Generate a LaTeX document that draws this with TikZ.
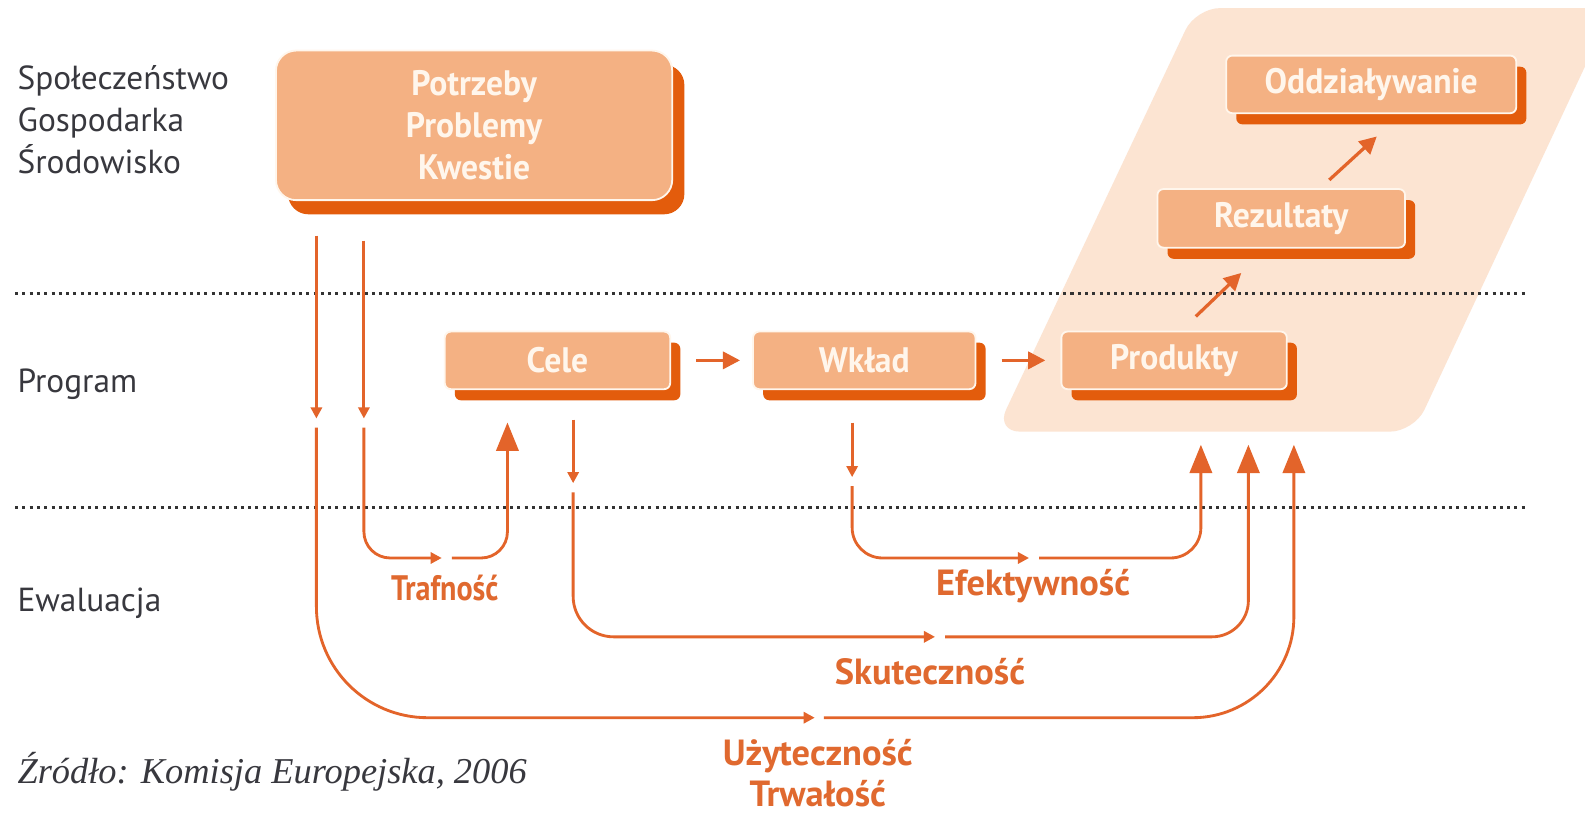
\documentclass[tikz,border=0pt]{standalone}
\usepackage{fontspec}
\setmainfont{PT Sans}
\newfontfamily\boxfont[FakeStretch=0.95]{PT Sans}
\newfontfamily\evfont{PT Sans}
\newfontfamily\condfont[FakeStretch=0.85]{PT Sans}
\newfontfamily\srcfont{Liberation Serif}
\usetikzlibrary{arrows.meta,shadows,calc}
\definecolor{boxfill}{HTML}{F4B183}
\definecolor{boxshadow}{HTML}{E35C0C}
\definecolor{peach}{HTML}{FCE4D2}
\definecolor{connc}{HTML}{E3642A}
\definecolor{lblc}{HTML}{E0692F}
\definecolor{txtdark}{HTML}{38383E}
\definecolor{cream}{HTML}{FFF6EC}
\definecolor{dotc}{HTML}{333333}
\tikzset{
  boxbase/.style={draw=cream, line width=0.9pt, fill=boxfill, rounded corners=3pt,
    text=cream, inner sep=0pt, font=\boxfont\bfseries\fontsize{17.5}{20.8}\selectfont},
  smallbox/.style={boxbase, minimum height=28.5pt,
    drop shadow={shadow xshift=5pt, shadow yshift=-5.5pt, fill=boxshadow, opacity=1}},
  bigbox/.style={boxbase, rounded corners=10pt, align=center,
    drop shadow={shadow xshift=6pt, shadow yshift=-7pt, fill=boxshadow, opacity=1}},
  sidelabel/.style={anchor=west, inner sep=0pt, align=left, text=txtdark,
    font=\fontsize{16.5}{20.8}\selectfont},
  evlabel/.style={inner sep=0pt, align=center, text=lblc,
    font=\evfont\bfseries\fontsize{18}{20.5}\selectfont},
  dotline/.style={draw=dotc, line width=1.5pt, dash pattern=on 1.5pt off 2.1pt},
  conn/.style={draw=connc, line width=1.4pt},
  midtip/.style={-{Triangle[length=5.5pt,width=5.5pt]}},
  endtip/.style={-{Triangle[length=14pt,width=11pt]}},
  flowarr/.style={draw=connc, line width=1.6pt, -{Triangle[length=8.5pt,width=8.5pt]}},
}
\begin{document}
\begin{tikzpicture}[x=0.5pt,y=-0.5pt]
\useasboundingbox (0,0) rectangle (1568,809);
\fill[white] (0,0) rectangle (1568,809);
% peach band
\fill[peach, rounded corners=12pt] (985,427) -- (1399,427) -- (1595,8) -- (1183,8) -- cycle;
% dotted separators
\draw[dotline] (15,290) -- (1512,290);
\draw[dotline] (15,502) -- (1512,502);
% side labels
\node[sidelabel] (spol) at (17,118) {Społeczeństwo\\Gospodarka\\Środowisko};
\node[sidelabel] (prog) at (17,380) {Program};
\node[sidelabel] (ewal) at (17,597) {Ewaluacja};
% boxes
\node[bigbox, minimum width=196pt, minimum height=74pt] (potrz) at (469,124) {Potrzeby\\Problemy\\Kwestie};
\node[smallbox, minimum width=111.5pt] (cele) at (551.5,356.5) {Cele};
\node[smallbox, minimum width=110pt] (wklad) at (855,356.5) {Wkład};
\node[smallbox, minimum width=111.5pt] (prod) at (1161.5,356.5) {Produkty};
\node[smallbox, minimum width=122.5pt, minimum height=29pt] (rez) at (1267.5,216) {Rezultaty};
\node[smallbox, minimum width=143.5pt, minimum height=28.5pt] (odd) at (1356.5,83.5) {Oddziaływanie};
% flow arrows
\draw[flowarr] ([xshift=12.5pt]cele.east) -- ([xshift=-6pt]wklad.west);
\draw[flowarr] ([xshift=12.5pt]wklad.east) -- ([xshift=-7.5pt]prod.west);
\coordinate (d1a) at (1183,313);
\coordinate (d1b) at (1228,270);
\coordinate (d2a) at (1315,178);
\coordinate (d2b) at (1362,135);
\draw[flowarr] (d1a) -- (d1b);
\draw[flowarr] (d2a) -- (d2b);
% Uzytecznosc
\coordinate (u0) at (313,233);
\coordinate (u1) at (313,414);
\coordinate (u2) at (313,423);
\coordinate (u3) at (806,710);
\coordinate (u4) at (815,710);
\coordinate (u5) at (1280,440);
\draw[conn, midtip] (u0) -- (u1);
\draw[conn, midtip, rounded corners=55pt] (u2) |- (u3);
\draw[conn, endtip, rounded corners=50pt] (u4) -| (u5);
% Trafnosc
\coordinate (t0) at (360,238);
\coordinate (t1) at (360,414);
\coordinate (t2) at (360,423);
\coordinate (t3) at (437,552);
\coordinate (t4) at (447,552);
\coordinate (t5) at (502,418);
\draw[conn, midtip] (t0) -- (t1);
\draw[conn, midtip, rounded corners=13pt] (t2) |- (t3);
\draw[conn, endtip, rounded corners=13pt] (t4) -| (t5);
% Skutecznosc
\coordinate (s0) at (567,415);
\coordinate (s1) at (567,478);
\coordinate (s2) at (567,487);
\coordinate (s3) at (925,630);
\coordinate (s4) at (935,630);
\coordinate (s5) at (1235,440);
\draw[conn, midtip] (s0) -- (s1);
\draw[conn, midtip, rounded corners=20pt] (s2) |- (s3);
\draw[conn, endtip, rounded corners=18pt] (s4) -| (s5);
% Efektywnosc
\coordinate (e0) at (843,418);
\coordinate (e1) at (843,472);
\coordinate (e2) at (843,481);
\coordinate (e3) at (1018,552);
\coordinate (e4) at (1028,552);
\coordinate (e5) at (1188,440);
\draw[conn, midtip] (e0) -- (e1);
\draw[conn, midtip, rounded corners=15pt] (e2) |- (e3);
\draw[conn, endtip, rounded corners=15pt] (e4) -| (e5);
% evaluation labels
\node[evlabel, font=\condfont\bfseries\fontsize{17.5}{20}\selectfont] (traf) at (440,582) {Trafność};
\node[evlabel] (efek) at (1022,580) {Efektywność};
\node[evlabel] (skut) at (920,664) {Skuteczność};
\node[evlabel] (uzyt) at (809,765) {Użyteczność\\Trwałość};
% source
\node[anchor=west, inner sep=0pt, text=txtdark, font=\srcfont\itshape\fontsize{18}{21}\selectfont] (src) at (17,763) {Źródło: Komisja Europejska, 2006};
\end{tikzpicture}
\end{document}
